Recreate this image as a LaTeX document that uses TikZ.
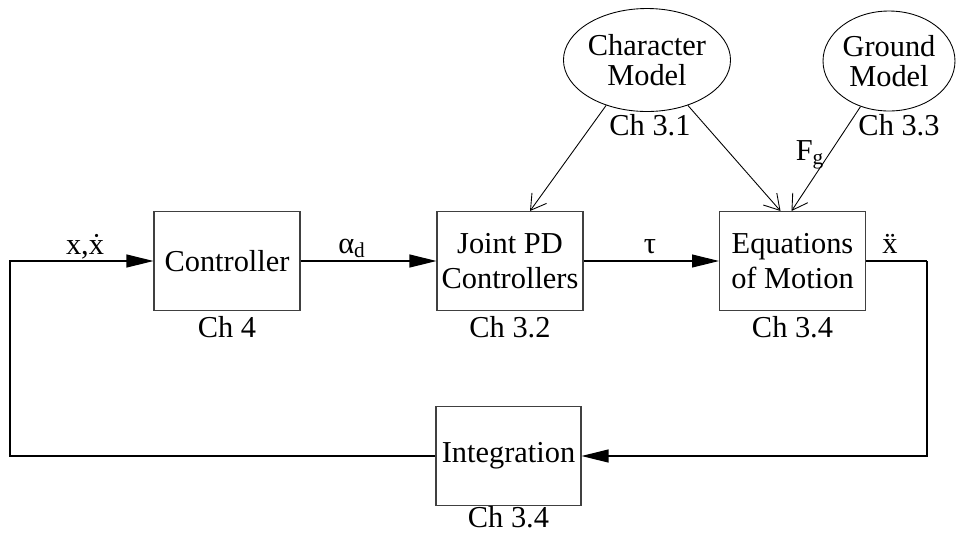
\documentclass[tikz,border=0pt]{standalone}
\usepackage{fontspec}
\setmainfont{Liberation Serif}
\usetikzlibrary{arrows.meta, calc, shapes.geometric}

\begin{document}
\begin{tikzpicture}[x=0.02cm, y=-0.02cm,
    font=\fontsize{17.3}{19.5}\selectfont,
    block/.style={
        draw=black!75, line width=0.6pt,
        minimum width=2.92cm, minimum height=1.98cm,
        inner sep=0pt, align=center
    },
    model/.style={
        ellipse, draw=black, line width=0.5pt,
        minimum width=2.8cm, minimum height=2.06cm,
        inner sep=0pt, align=center,
        font=\fontsize{17.3}{17.5}\selectfont
    },
    signal/.style={-{Triangle[length=0.54cm, width=0.26cm]}, line width=0.6pt},
    wire/.style={-, line width=0.6pt},
    feed/.style={-{Straight Barb[length=0.3cm, width=0.36cm]}, line width=0.5pt},
    chlabel/.style={anchor=base, inner sep=0pt},
    slabel/.style={anchor=base, inner sep=0pt},
]

\useasboundingbox (0,0) rectangle (957,532);

% --- Coordenadas ---
\def\xleft{10}
\def\xc{227}
\def\xpd{510}
\def\xeq{792.5}
\def\xright{927}
\def\xint{508.5}

\def\yrow{261}
\def\yint{456}
\def\ych{337}

% --- Bloques de la fila principal ---
\node[block] (C)  at (\xc,  \yrow) {Controller};
\node[block] (PD) at (\xpd, \yrow) {Joint PD\\Controllers};
\node[block] (EQ) at (\xeq, \yrow) {Equations\\of Motion};
\node[block, minimum width=2.9cm] (I) at (\xint, \yint) {Integration};

\node[chlabel] (chC)  at (\xc,  \ych) {Ch 4};
\node[chlabel] (chPD) at (\xpd, \ych) {Ch 3.2};
\node[chlabel] (chEQ) at (\xeq, \ych) {Ch 3.4};
\node[chlabel] (chI)  at (\xint, 527) {Ch 3.4};

% --- Modelos ---
\node[model] (CM) at (647, 60) {Character\\Model};
\node[model, minimum width=2.64cm, minimum height=2cm] (GM) at (889, 61) {Ground\\Model};

\node[chlabel] (chCM) at (650, 135) {Ch 3.1};
\node[chlabel] (chGM) at (899, 135) {Ch 3.3};

% --- Espina: senales entre bloques ---
\coordinate (fb_left)  at (\xleft,  \yrow);
\coordinate (fb_right) at (\xright, \yrow);

\draw[signal] (C.east)  -- (PD.west);
\draw[signal] (PD.east) -- (EQ.west);
\draw[wire]   (EQ.east) -- (fb_right);

\node[slabel] (lx)   at (85,  254) {x,\.{x}};
\node[slabel] (lad)  at (352, 253) {α\textsubscript{d}};
\node[slabel] (ltau) at (650, 253) {τ};
\node[slabel] (lxdd) at (890, 253) {\"{x}};

% --- Lazo de integracion ---
\draw[signal] (fb_right) |- (I.east);
\draw[signal] (I.west) -| (fb_left) -- (C.west);

% --- Entradas de los modelos ---
\draw[feed] (CM.228) -- ($(PD.north)+(20,0)$);
\draw[feed] (CM.312) -- ($(EQ.north)+(-12,0)$);
\draw[feed] (GM.238) -- ($(EQ.north)+(-1,0)$);

\node[slabel] (lFg) at (810, 160) {F\textsubscript{g}};

\end{tikzpicture}
\end{document}
